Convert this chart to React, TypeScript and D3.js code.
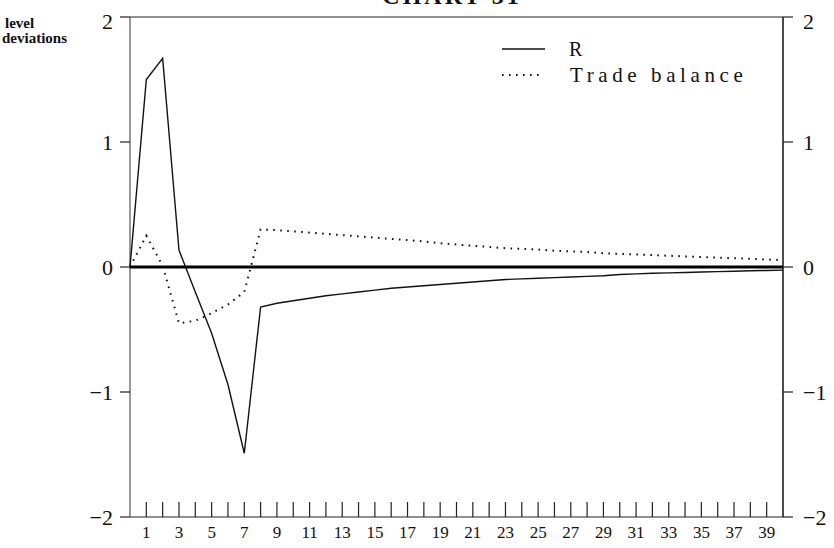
import React from "react";
import * as d3 from "d3";

const periods: number[] = d3.range(0, 41);
const rValues: number[] = [
  0, 1.5, 1.67, 0.135, -0.2, -0.53, -0.94, -1.49, -0.32, -0.29,
  -0.27, -0.25, -0.23, -0.215, -0.2, -0.185, -0.17, -0.16, -0.15, -0.14,
  -0.13, -0.12, -0.11, -0.1, -0.095, -0.09, -0.085, -0.08, -0.075, -0.07,
  -0.06, -0.055, -0.05, -0.047, -0.044, -0.04, -0.037, -0.034, -0.03, -0.028,
  -0.025,
];
const tradeValues: number[] = [
  0, 0.25, 0.01, -0.45, -0.43, -0.37, -0.3, -0.2, 0.3, 0.295,
  0.285, 0.275, 0.265, 0.255, 0.245, 0.235, 0.225, 0.215, 0.205, 0.19,
  0.18, 0.17, 0.16, 0.15, 0.145, 0.14, 0.13, 0.125, 0.12, 0.11,
  0.105, 0.1, 0.095, 0.09, 0.085, 0.08, 0.075, 0.07, 0.065, 0.06,
  0.055,
];
const yTicks: number[] = [2, 1, 0, -1, -2];
const xMinorTicks: number[] = d3.range(1, 40);
const xLabels: number[] = d3.range(1, 40, 2);
const seriesNames: string[] = ["R", "Trade balance"];
const titleText = "CHART 31";
const yAxisTitle: string[] = ["level", "deviations"];

const W = 834;
const H = 548;
const left = 130;
const right = 783;
const top = 17;
const bottom = 517;
const FONT = "'Liberation Serif', 'DejaVu Serif', serif";

export default function App() {
  const x = d3.scaleLinear().domain([0, 40]).range([left, right]);
  const y = d3.scaleLinear().domain([-2, 2]).range([bottom, top]);
  const line = d3
    .line<number>()
    .x((_, i) => x(periods[i]))
    .y((d) => y(d));
  const fmt = (v: number) => (v < 0 ? "\u2212" + Math.abs(v) : String(v));

  return (
    <svg
      width={W}
      height={H}
      style={{ position: "absolute", left: 0, top: 0, background: "#fff" }}
      fontFamily={FONT}
    >
      <rect x={0} y={0} width={W} height={H} fill="#fff" />
      {/* title, mostly cut off at the top as in the reference */}
      <text
        x={452}
        y={4}
        textAnchor="middle"
        fontSize={24}
        fontWeight="bold"
        letterSpacing={3}
        fill="#111"
      >
        {titleText}
      </text>
      {/* axis title */}
      <text x={5} y={28} fontSize={15} fontWeight="bold" fill="#111">
        {yAxisTitle[0]}
      </text>
      <text x={2} y={43} fontSize={15} fontWeight="bold" fill="#111">
        {yAxisTitle[1]}
      </text>

      {/* frame */}
      <line x1={left} x2={right} y1={top} y2={top} stroke="#222" strokeWidth={1.2} />
      <line x1={left} x2={right} y1={bottom} y2={bottom} stroke="#222" strokeWidth={1.2} />
      <line x1={left} x2={left} y1={top} y2={bottom} stroke="#555" strokeWidth={1.2} />
      <line x1={right} x2={right} y1={top} y2={bottom} stroke="#111" strokeWidth={1.5} />

      {/* y ticks and labels */}
      {yTicks.map((t) => (
        <g key={"y" + t}>
          <line x1={left - 10} x2={left} y1={y(t)} y2={y(t)} stroke="#222" strokeWidth={1.2} />
          <line x1={right} x2={right + 10} y1={y(t)} y2={y(t)} stroke="#222" strokeWidth={1.2} />
          <text
            x={left - 17}
            y={y(t) + (t === 2 ? 4 : 0)}
            dy="0.35em"
            textAnchor="end"
            fontSize={22}
            fill="#111"
          >
            {fmt(t)}
          </text>
          <text
            x={right + 20}
            y={y(t) + (t === 2 ? 4 : 0)}
            dy="0.35em"
            textAnchor="start"
            fontSize={22}
            fill="#111"
          >
            {fmt(t)}
          </text>
        </g>
      ))}

      {/* x ticks */}
      {xMinorTicks.map((t) => (
        <line
          key={"xt" + t}
          x1={x(t)}
          x2={x(t)}
          y1={bottom}
          y2={bottom - 15}
          stroke="#222"
          strokeWidth={1.2}
        />
      ))}
      {xLabels.map((t) => (
        <text
          key={"xl" + t}
          x={x(t)}
          y={538}
          textAnchor="middle"
          fontSize={17}
          fill="#111"
        >
          {t}
        </text>
      ))}

      {/* zero line */}
      <line x1={left} x2={right} y1={y(0)} y2={y(0)} stroke="#000" strokeWidth={3} />

      {/* series */}
      <path d={line(rValues) || ""} fill="none" stroke="#111" strokeWidth={1.4} />
      <path
        d={line(tradeValues) || ""}
        fill="none"
        stroke="#111"
        strokeWidth={2}
        strokeDasharray="1.6 5.4"
      />

      {/* legend */}
      <line x1={502} x2={545} y1={49} y2={49} stroke="#111" strokeWidth={1.4} />
      <text x={569} y={56} fontSize={20} fill="#111">
        {seriesNames[0]}
      </text>
      <line
        x1={502}
        x2={541}
        y1={75}
        y2={75}
        stroke="#111"
        strokeWidth={2}
        strokeDasharray="1.6 5.4"
      />
      <text x={570} y={82} fontSize={21} letterSpacing={4.6} fill="#111">
        {seriesNames[1]}
      </text>
    </svg>
  );
}
